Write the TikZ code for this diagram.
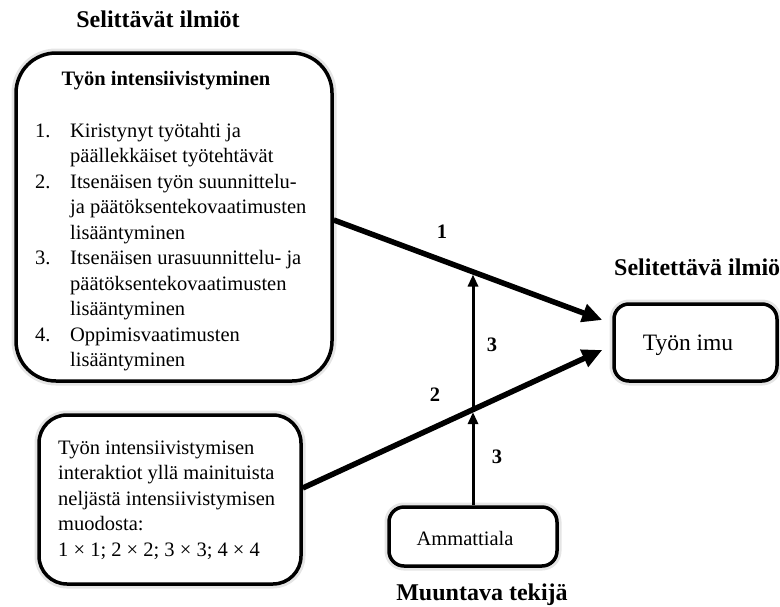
\documentclass[tikz,border=0pt]{standalone}
\usepackage{fontspec}
\setmainfont{Liberation Serif}
\usetikzlibrary{arrows.meta}

\begin{document}
\begin{tikzpicture}[x=1pt,y=-1pt,
    box/.style={draw,line width=3.5pt,fill=white,preaction={draw=black!10,line width=9pt}},
    body/.style={font=\fontsize{20.5}{25.5}\selectfont,inner sep=0pt},
    head/.style={font=\bfseries\fontsize{24}{28}\selectfont,inner sep=0pt},
    lab/.style={font=\bfseries\fontsize{20.5}{24}\selectfont,inner sep=0pt},
    bigarrow/.style={line width=5.5pt,-{Triangle[length=20pt,width=18pt]}},
    smallarrow/.style={line width=3pt,-{Triangle[length=12pt,width=10pt]}}]
\useasboundingbox (0,0) rectangle (780,606);
\node[box,rounded corners=40pt,minimum width=316pt,minimum height=328pt] (tyon) at (174,217) {};
\node[head,anchor=base] (selittavat) at (158,27) {Selittävät ilmiöt};
\node[lab,anchor=base] (otsikko) at (166,85) {Työn intensiivistyminen};
\node[body,anchor=base west] (lista) at (35,137) {\begin{tabular}[t]{@{}p{35pt}@{}l@{}}
1. & Kiristynyt työtahti ja\\
   & päällekkäiset työtehtävät\\
2. & Itsenäisen työn suunnittelu-\\
   & ja päätöksentekovaatimusten\\
   & lisääntyminen\\
3. & Itsenäisen urasuunnittelu- ja\\
   & päätöksentekovaatimusten\\
   & lisääntyminen\\
4. & Oppimisvaatimusten\\
   & lisääntyminen
\end{tabular}};
\node[box,rounded corners=28pt,minimum width=262pt,minimum height=169pt] (inter) at (170,499.5) {};
\node[body,anchor=base west] (intertxt) at (58,454) {\begin{tabular}[t]{@{}l@{}}
Työn intensiivistymisen\\
interaktiot yllä mainituista\\
neljästä intensiivistymisen\\
muodosta:\\
1 × 1; 2 × 2; 3 × 3; 4 × 4
\end{tabular}};
\node[box,rounded corners=15pt,minimum width=163pt,minimum height=77pt] (imu) at (695.5,342.5) {};
\node[body,font=\fontsize{23.5}{28}\selectfont,anchor=base] (imutxt) at (688,350) {Työn imu};
\node[head,anchor=base west] (selitettava) at (614,275) {Selitettävä ilmiö};
\node[box,rounded corners=15pt,minimum width=168pt,minimum height=59pt] (amm) at (473,536.5) {};
\node[body,anchor=base] (ammtxt) at (465,545) {Ammattiala};
\node[head,anchor=base] (muuntava) at (482,600) {Muuntava tekijä};
\draw[bigarrow] ([yshift=-3pt]tyon.east) -- coordinate[pos=0.52] (m1) ([xshift=-10pt,yshift=22.5pt]imu.west);
\draw[bigarrow] ([yshift=11.5pt]inter.east) -- coordinate[pos=0.568] (m2) ([xshift=-10pt,yshift=-7.5pt]imu.west);
\draw[smallarrow,shorten >=2.5pt] (amm.north) -- (amm.north |- m2);
\draw[smallarrow,shorten >=2.5pt] (amm.north |- m2) -- (amm.north |- m1);
\node[lab] (n1) at (442,232) {1};
\node[lab] (n2) at (435,395) {2};
\node[lab] (n3a) at (492,345) {3};
\node[lab] (n3b) at (497,457) {3};
\end{tikzpicture}
\end{document}
